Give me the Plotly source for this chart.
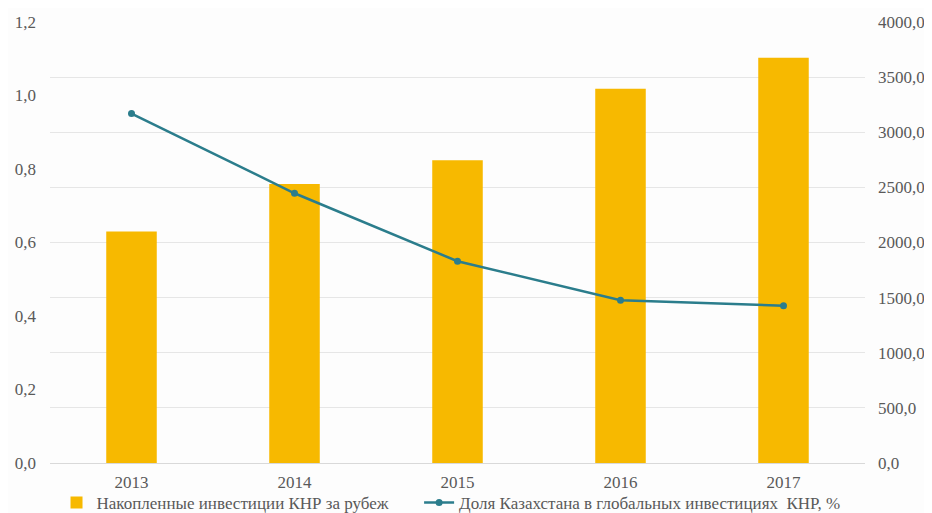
import plotly.graph_objects as go

years = ["2013", "2014", "2015", "2016", "2017"]
invest = [2100, 2530, 2745, 3395, 3675]          # right axis
share = [0.951, 0.734, 0.549, 0.443, 0.428]      # left axis

bar_name = "Накопленные инвестиции КНР за рубеж\u00a0\u00a0\u00a0\u00a0\u00a0\u00a0"
line_name = "Доля Казахстана в глобальных инвестициях  КНР, %"

font_family = "Liberation Serif"
txt_color = "#595959"

fig = go.Figure()
fig.add_trace(go.Bar(
    x=years, y=invest, name=bar_name, yaxis="y",
    marker=dict(color="#F7B900", line=dict(width=0)),
))
fig.add_trace(go.Scatter(
    x=years, y=share, name=line_name, yaxis="y2",
    mode="lines+markers",
    line=dict(color="#2B7D8C", width=2.5),
    marker=dict(color="#2B7D8C", size=7),
))

fig.update_layout(
    width=924, height=505,
    margin=dict(l=42, r=67, t=14, b=50, autoexpand=False),
    paper_bgcolor="#FDFDFD", plot_bgcolor="#FDFDFD",
    separators=", ",
    font=dict(family=font_family, size=17, color=txt_color),
    bargap=0.69,
    xaxis=dict(showgrid=False, showline=True, linecolor="#D9D9D9", linewidth=1,
               ticks="", automargin=False, ticklabelstandoff=4,
               tickfont=dict(family=font_family, size=17, color=txt_color)),
    yaxis=dict(range=[0, 4000], dtick=500, tickformat=".1f", side="right",
               showgrid=True, gridcolor="#E6E6E6", gridwidth=1, zeroline=False,
               automargin=False, ticklabelstandoff=12,
               tickfont=dict(family=font_family, size=17, color=txt_color)),
    yaxis2=dict(range=[0, 1.2], dtick=0.2, tickformat=".1f", overlaying="y",
                side="left", showgrid=False, zeroline=False, automargin=False,
                ticklabelstandoff=13,
                tickfont=dict(family=font_family, size=17, color=txt_color)),
    legend=dict(orientation="h", x=0.008, xanchor="left", y=-0.05, yanchor="top",
                font=dict(family=font_family, size=17, color=txt_color),
                bgcolor="rgba(0,0,0,0)", traceorder="normal", itemwidth=30),
    showlegend=True,
)

fig.write_html("out.html")
